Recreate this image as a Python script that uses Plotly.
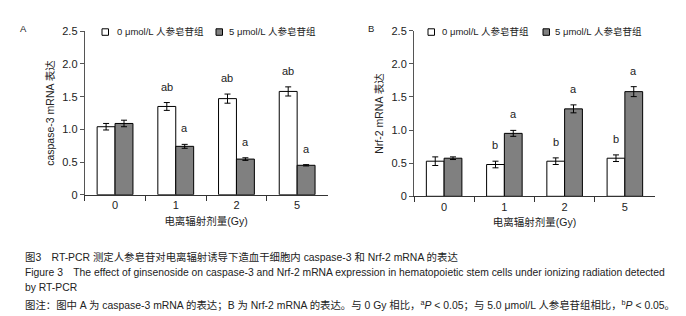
import plotly.graph_objects as go
from plotly.subplots import make_subplots

# ---------------- data ----------------
doses = ["0", "1", "2", "5"]
series_names = ["0 μmol/L 人参皂苷组", "5 μmol/L 人参皂苷组"]

casp_ctrl = [1.04, 1.35, 1.47, 1.58]
casp_ctrl_err = [0.05, 0.06, 0.07, 0.07]
casp_gs = [1.09, 0.74, 0.545, 0.45]
casp_gs_err = [0.05, 0.03, 0.02, 0.01]
casp_ctrl_sig = ["", "ab", "ab", "ab"]
casp_gs_sig = ["", "a", "a", "a"]

nrf_ctrl = [0.53, 0.48, 0.53, 0.575]
nrf_ctrl_err = [0.065, 0.05, 0.05, 0.05]
nrf_gs = [0.575, 0.95, 1.32, 1.58]
nrf_gs_err = [0.02, 0.045, 0.06, 0.075]
nrf_ctrl_sig = ["", "b", "b", "b"]
nrf_gs_sig = ["", "a", "a", "a"]

y_tickvals = [0, 0.5, 1.0, 1.5, 2.0, 2.5]
y_ticktext = ["0", "0.5", "1.0", "1.5", "2.0", "2.5"]

fill_colors = ["#ffffff", "#808080"]

FONT = "Liberation Sans, Arial, Noto Sans CJK SC, sans-serif"
W, H = 686, 316

fig = make_subplots(rows=1, cols=2)

panels = [
    (1, [casp_ctrl, casp_gs], [casp_ctrl_err, casp_gs_err], [casp_ctrl_sig, casp_gs_sig]),
    (2, [nrf_ctrl, nrf_gs], [nrf_ctrl_err, nrf_gs_err], [nrf_ctrl_sig, nrf_gs_sig]),
]

BARGAP = 0.41
annotations = []
for col, vals, errs, sigs in panels:
    for k in range(2):
        fig.add_trace(
            go.Bar(
                x=doses, y=vals[k], name=series_names[k], showlegend=False,
                marker=dict(color=fill_colors[k], line=dict(color="black", width=1)),
                error_y=dict(type="data", array=errs[k], color="black", thickness=1, width=3),
            ),
            row=1, col=col,
        )
        xref = "x" if col == 1 else "x2"
        yref = "y" if col == 1 else "y2"
        for i, d in enumerate(doses):
            if sigs[k][i]:
                annotations.append(dict(
                    x=i, y=vals[k][i] + errs[k][i], xref=xref, yref=yref,
                    text=sigs[k][i], showarrow=False, yanchor="bottom",
                    xshift=(-9 if k == 0 else 9), yshift=8,
                    font=dict(size=11, color="#222222", family=FONT),
                ))

# axes
xdom = [[76.7 / W, 319.5 / W], [406 / W, 647 / W]]
ydom = [[1 - 186.7 / H, 1 - 23.3 / H], [1 - 188.3 / H, 1 - 22.7 / H]]
ytitles = ["caspase-3 mRNA 表达", "Nrf-2 mRNA 表达"]
for c in (1, 2):
    fig.update_xaxes(
        domain=xdom[c - 1], type="category", range=[-0.5, 3.5],
        showline=True, linecolor="#333", linewidth=1,
        ticks="outside", tickson="boundaries", ticklen=5, tickcolor="#333",
        tickfont=dict(size=11, color="#222", family=FONT),
        showgrid=False, zeroline=False,
        title=dict(text="电离辐射剂量(Gy)", font=dict(size=10.5, color="#222", family=FONT), standoff=7),
        row=1, col=c,
    )
    fig.update_yaxes(
        domain=ydom[c - 1], range=[0, 2.5],
        tickvals=y_tickvals, ticktext=y_ticktext,
        showline=True, linecolor="#555", linewidth=1,
        ticks="outside", ticklen=4, tickcolor="#555",
        tickfont=dict(size=11, color="#222", family=FONT),
        showgrid=False, zeroline=False,
        title=dict(text=ytitles[c - 1], font=dict(size=10.5, color="#222", family=FONT), standoff=5),
        row=1, col=c,
    )

# legends (drawn per panel)
shapes = []
legend_pos = [
    [(94, 106.5), (208, 218.5)],
    [(420, 431.5), (535, 545)],
]
for p in range(2):
    for k in range(2):
        sx, tx = legend_pos[p][k]
        shapes.append(dict(type="rect", xref="paper", yref="paper",
                           x0=sx / W, x1=(sx + 6.5) / W, y0=1 - 27.3 / H, y1=1 - 20.8 / H,
                           fillcolor=fill_colors[k], line=dict(color="black", width=1)))
        annotations.append(dict(x=tx / W, y=1 - 24 / H, xref="paper", yref="paper",
                                text=series_names[k], showarrow=False, xanchor="left", yanchor="middle",
                                font=dict(size=9.5, color="#222", family=FONT)))

# panel letters
for lab, px, py in [("A", 15, 20.5), ("B", 362.5, 20)]:
    annotations.append(dict(x=px / W, y=1 - py / H, xref="paper", yref="paper", text=lab,
                            showarrow=False, xanchor="center", yanchor="middle",
                            font=dict(size=9.5, color="#222", family=FONT)))

# caption
captions = [
    ("图3\u2003RT-PCR 测定人参皂苷对电离辐射诱导下造血干细胞内 caspase-3 和 Nrf-2 mRNA 的表达", 249, 10.4),
    ("Figure 3\u2003The effect of ginsenoside on caspase-3 and Nrf-2 mRNA expression in hematopoietic stem cells under ionizing radiation detected", 264, 10.35),
    ("by RT-PCR", 279, 10.35),
    ("图注：图中 A 为 caspase-3 mRNA 的表达；B 为 Nrf-2 mRNA 的表达。与 0 Gy 相比，<sup>a</sup><i>P</i> < 0.05；与 5.0 μmol/L 人参皂苷组相比，<sup>b</sup><i>P</i> < 0.05。", 296, 10.4),
]
for txt, yy, fs in captions:
    annotations.append(dict(x=15 / W, y=1 - yy / H, xref="paper", yref="paper", text=txt,
                            showarrow=False, xanchor="left", yanchor="middle",
                            font=dict(size=fs, color="#222", family=FONT)))

fig.update_layout(
    template="none",
    width=W, height=H, margin=dict(l=0, r=0, t=0, b=0),
    paper_bgcolor="white", plot_bgcolor="white",
    barmode="group", bargap=BARGAP, bargroupgap=0,
    showlegend=False, annotations=annotations, shapes=shapes,
    font=dict(family=FONT, size=10, color="#222"),
)

fig.write_html("out.html")
